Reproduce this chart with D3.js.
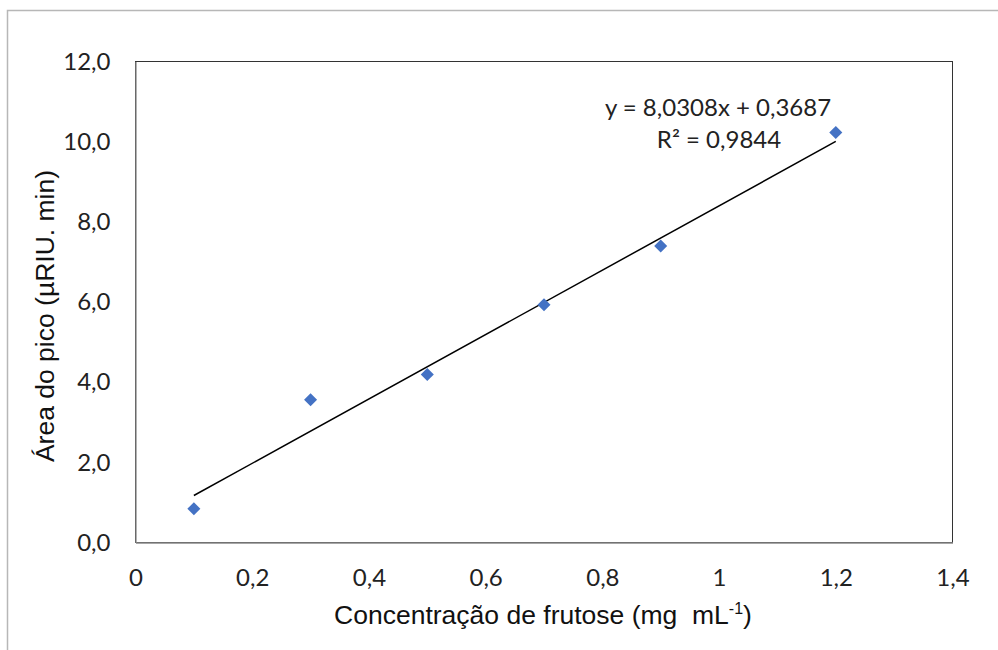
<!DOCTYPE html>
<html>
<head>
<meta charset="utf-8">
<script src="https://cdn.jsdelivr.net/npm/d3@7"></script>
<style>
  body { margin: 0; background: #fff; }
  svg { display: block; }
</style>
</head>
<body>
<div id="chart"></div>
<script>
// values
const concentracao = [0.1, 0.3, 0.5, 0.7, 0.9, 1.2];
const area = [0.84, 3.56, 4.19, 5.93, 7.40, 10.23];
const xTicks = [0, 0.2, 0.4, 0.6, 0.8, 1, 1.2, 1.4];
const yTicks = [0, 2, 4, 6, 8, 10, 12];
const trend = { slope: 8.0308, intercept: 0.3687, r2: 0.9844 };

const width = 998;
const height = 650;
const plot = { left: 135.5, top: 61.5, right: 952.5, bottom: 542.5 };

const svg = d3.select('#chart')
    .append('svg')
    .attr('width', width)
    .attr('height', height);

// outer chart border (only top and left are inside the picture)
svg.append('path')
    .attr('d', `M7.5,${height} V10.5 H${width}`)
    .attr('fill', 'none')
    .attr('stroke', '#b7b7b7')
    .attr('stroke-width', 1.5);

const xScale = d3.scaleLinear().domain([0, 1.4]).range([plot.left, plot.right]);
const yScale = d3.scaleLinear().domain([0, 12]).range([plot.bottom, plot.top]);

// plot area border
svg.append('rect')
    .attr('x', plot.left)
    .attr('y', plot.top)
    .attr('width', plot.right - plot.left)
    .attr('height', plot.bottom - plot.top)
    .attr('fill', 'none')
    .attr('stroke', '#333')
    .attr('stroke-width', 1);

const fmt = (d) => d3.format('.1f')(d).replace('.', ',');
const fmtX = (d) => String(+d.toFixed(1)).replace('.', ',');

const xAxis = svg.append('g')
    .attr('transform', `translate(0,${plot.bottom})`)
    .call(d3.axisBottom(xScale).tickValues(xTicks).tickFormat(fmtX).tickSize(0).tickPadding(26));
const yAxis = svg.append('g')
    .attr('transform', `translate(${plot.left},0)`)
    .call(d3.axisLeft(yScale).tickValues(yTicks).tickFormat(fmt).tickSize(0).tickPadding(25));

[xAxis, yAxis].forEach((g) => {
    g.select('.domain').attr('stroke', '#888').attr('stroke-width', 1.3);
    g.selectAll('text')
        .attr('font-family', 'Lato, "Open Sans", sans-serif')
        .attr('font-size', 24)
        .attr('fill', '#222');
});

// trendline
const xr = d3.extent(concentracao);
svg.append('line')
    .attr('x1', xScale(xr[0]))
    .attr('y1', yScale(trend.slope * xr[0] + trend.intercept))
    .attr('x2', xScale(xr[1]))
    .attr('y2', yScale(trend.slope * xr[1] + trend.intercept))
    .attr('stroke', '#000')
    .attr('stroke-width', 1.5);

// points
svg.append('g')
    .selectAll('path')
    .data(d3.zip(concentracao, area))
    .join('path')
    .attr('transform', (d) => `translate(${xScale(d[0])},${yScale(d[1])}) rotate(45)`)
    .attr('d', 'M-4.6,-4.6H4.6V4.6H-4.6Z')
    .attr('fill', '#4472c4');

// equation label
const eq = svg.append('g')
    .attr('font-family', 'Lato, "Open Sans", sans-serif')
    .attr('font-size', 24)
    .attr('fill', '#222')
    .attr('text-anchor', 'middle');
eq.append('text')
    .attr('x', 718)
    .attr('y', 116)
    .text(`y = ${String(trend.slope).replace('.', ',')}x + ${String(trend.intercept).replace('.', ',')}`);
eq.append('text')
    .attr('x', 719)
    .attr('y', 148)
    .text(`R² = ${String(trend.r2).replace('.', ',')}`);

// axis titles
const xt = svg.append('text')
    .attr('x', 543)
    .attr('y', 624)
    .attr('text-anchor', 'middle')
    .attr('font-family', '"Liberation Sans", Arial, sans-serif')
    .attr('font-size', 26.5)
    .attr('fill', '#111')
    .style('white-space', 'pre');
xt.append('tspan').text('Concentração de frutose (mg  mL');
xt.append('tspan').attr('font-size', 16).attr('dy', -10).text('-1');
xt.append('tspan').attr('dy', 10).text(')');

svg.append('text')
    .attr('transform', 'translate(54,316) rotate(-90)')
    .attr('text-anchor', 'middle')
    .attr('font-family', '"Liberation Sans", Arial, sans-serif')
    .attr('font-size', 26.5)
    .attr('fill', '#111')
    .text('Área do pico (µRIU. min)');
</script>
</body>
</html>
